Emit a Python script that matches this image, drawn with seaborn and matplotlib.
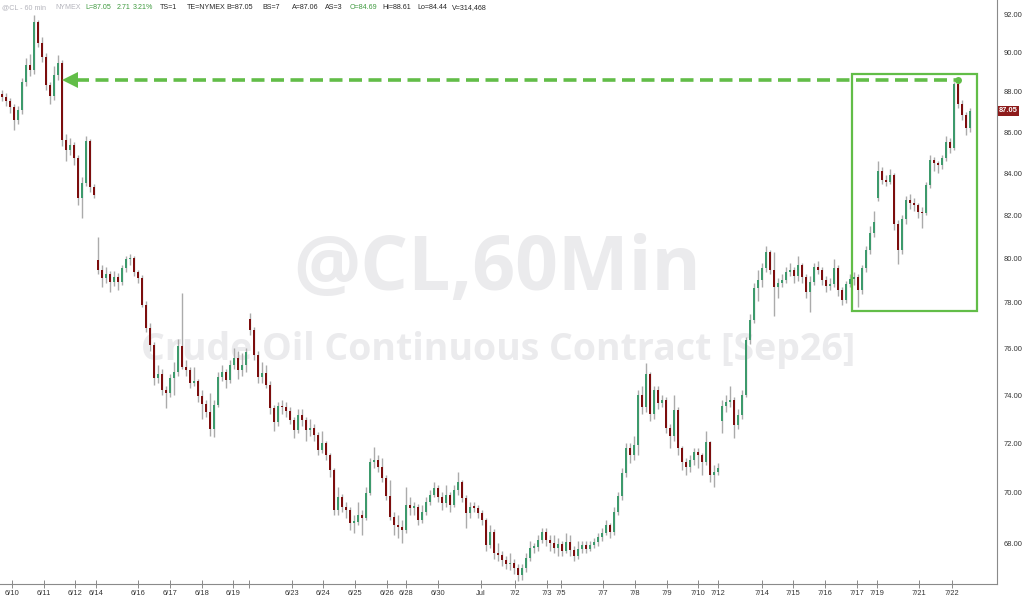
import matplotlib
matplotlib.use("Agg")
import matplotlib.pyplot as plt
import matplotlib.ticker as mticker
import matplotlib.transforms as mtransforms
import numpy as np
import seaborn as sns

sns.set_theme(style="white")
plt.rcParams["font.family"] = ["Liberation Sans", "DejaVu Sans"]

# hourly-ish OHLC bars (one bar ~ 4px of the original)
opens = [
    87.90, 87.74, 87.54, 87.24, 86.59, 87.09, 88.50, 89.36, 89.10, 91.58,
    90.49, 89.77, 88.35, 87.79, 88.85, 89.46, 85.61, 85.12, 85.37, 84.74,
    82.80, 83.55, 85.55, 83.35, 79.94, 79.48, 79.12, 79.30, 78.94, 79.16,
    78.94, 79.57, 79.98, 80.03, 79.39, 79.12, 77.91, 76.89, 76.15, 74.73,
    74.90, 74.22, 74.09, 74.73, 74.99, 76.10, 75.20, 75.07, 74.51, 74.60,
    73.96, 73.62, 73.30, 72.60, 73.60, 74.77, 74.99, 74.64, 75.29, 75.59,
    75.07, 75.29, 77.30, 76.80, 75.72, 74.77, 74.94, 74.43, 73.45, 72.87,
    73.54, 73.50, 73.33, 72.96, 72.54, 73.16, 72.96, 72.54, 72.62, 72.33,
    71.72, 72.01, 71.51, 70.90, 69.30, 69.82, 69.42, 69.30, 68.79, 68.83,
    69.10, 68.99, 69.98, 71.23, 71.31, 71.02, 70.58, 69.86, 69.03, 68.71,
    68.63, 68.51, 69.50, 69.38, 69.42, 68.91, 69.22, 69.62, 69.90, 70.18,
    69.82, 69.58, 69.90, 69.50, 70.10, 70.42, 69.78, 69.18, 69.42, 69.38,
    69.18, 68.91, 67.93, 68.44, 67.62, 67.54, 67.35, 67.19, 67.23, 67.04,
    66.77, 67.04, 67.42, 67.81, 67.85, 68.12, 68.44, 68.12, 68.00, 67.81,
    67.97, 67.70, 68.04, 67.73, 67.50, 67.77, 67.93, 67.77, 67.93, 68.04,
    68.24, 68.40, 68.71, 68.44, 69.22, 69.86, 70.78, 71.80, 71.51, 71.92,
    74.01, 73.50, 74.90, 73.20, 74.22, 73.66, 73.79, 72.62, 72.29, 73.37,
    71.80, 71.23, 71.02, 71.31, 71.64, 71.51, 71.23, 72.05, 70.70, 70.82,
    72.90, 73.55, 73.70, 73.79, 72.75, 73.16, 74.01, 76.37, 77.24, 78.67,
    79.03, 79.57, 80.31, 79.48, 78.72, 78.90, 79.03, 79.39, 79.48, 79.21,
    79.71, 79.16, 78.49, 78.94, 79.62, 79.48, 79.03, 78.76, 78.85, 79.57,
    78.58, 78.13, 78.85, 79.07, 79.16, 78.58, 79.57, 80.40, 81.19, 82.80,
    84.10, 83.68, 83.59, 83.92, 81.60, 80.40, 81.85, 82.72, 82.58, 82.49,
    82.16, 82.11, 83.44, 84.64, 84.50, 84.40, 84.74, 85.51, 85.22, 88.40,
    87.40, 86.84, 86.20,
]
highs = [
    88.10, 87.95, 87.70, 87.40, 87.30, 88.70, 89.70, 89.90, 91.95, 91.70,
    90.80, 89.95, 88.50, 89.30, 89.87, 89.60, 85.90, 85.70, 85.50, 84.90,
    83.80, 85.80, 85.65, 83.50, 81.00, 79.70, 79.60, 79.45, 79.45, 79.35,
    79.70, 80.10, 80.20, 80.10, 79.50, 79.25, 78.10, 77.10, 76.30, 75.30,
    75.10, 74.40, 74.90, 75.40, 76.40, 78.45, 75.50, 75.20, 75.20, 74.70,
    74.20, 73.80, 74.10, 73.80, 75.00, 75.30, 75.10, 75.50, 76.00, 75.90,
    75.80, 76.00, 77.55, 76.95, 75.90, 75.40, 75.30, 74.60, 73.60, 73.70,
    73.80, 73.70, 73.50, 73.10, 73.40, 73.40, 73.10, 73.00, 72.80, 72.45,
    72.50, 72.10, 71.60, 71.00, 70.20, 69.95, 69.60, 69.40, 69.10, 69.60,
    69.30, 70.20, 71.40, 71.85, 71.50, 71.40, 70.70, 70.50, 69.20, 69.10,
    68.90, 70.20, 69.80, 69.60, 69.55, 69.50, 69.80, 70.10, 70.40, 70.30,
    70.00, 70.30, 70.00, 70.30, 70.80, 70.50, 69.90, 69.60, 69.60, 69.50,
    69.30, 69.00, 68.70, 68.55, 68.00, 67.70, 67.50, 67.60, 67.40, 67.20,
    67.20, 67.60, 68.10, 68.00, 68.30, 68.60, 68.60, 68.30, 68.30, 68.20,
    68.10, 68.40, 68.30, 67.90, 68.10, 68.10, 68.10, 68.10, 68.20, 68.40,
    68.60, 68.90, 68.80, 69.40, 70.00, 71.00, 72.00, 72.00, 72.30, 74.20,
    74.40, 75.37, 75.00, 74.40, 74.40, 74.00, 73.90, 72.80, 74.00, 73.50,
    71.90, 71.40, 71.50, 71.80, 71.80, 71.60, 72.50, 72.10, 71.10, 71.20,
    73.80, 74.00, 74.40, 73.90, 73.40, 74.20, 76.50, 77.50, 78.90, 79.50,
    79.80, 80.60, 80.40, 80.30, 79.10, 79.30, 79.60, 79.80, 79.60, 80.10,
    79.80, 79.30, 79.20, 79.80, 79.90, 79.60, 79.20, 79.10, 80.00, 79.70,
    78.70, 79.00, 79.30, 79.40, 79.30, 79.70, 80.60, 81.50, 82.20, 84.60,
    84.30, 83.90, 84.20, 84.00, 81.80, 82.00, 82.90, 83.00, 82.80, 82.60,
    82.40, 83.60, 84.90, 84.80, 84.60, 84.90, 85.80, 85.70, 88.50, 88.61,
    87.60, 87.00, 87.20,
]
lows = [
    87.55, 87.30, 86.95, 86.10, 86.40, 86.90, 88.30, 88.80, 88.90, 90.30,
    89.50, 88.10, 87.40, 87.60, 88.60, 85.30, 84.60, 84.90, 84.40, 82.50,
    81.88, 83.40, 83.10, 82.80, 79.30, 78.70, 78.90, 78.50, 78.75, 78.60,
    78.80, 79.40, 79.70, 79.20, 78.90, 77.80, 76.70, 75.90, 74.43, 74.50,
    74.00, 73.45, 73.90, 74.00, 74.80, 75.10, 74.80, 74.30, 74.40, 73.70,
    73.00, 73.10, 72.30, 72.25, 73.50, 74.60, 74.30, 74.50, 75.10, 74.70,
    74.80, 75.00, 76.60, 75.50, 74.50, 74.50, 74.30, 73.20, 72.50, 72.70,
    73.20, 73.10, 72.80, 72.20, 72.40, 72.70, 72.10, 72.30, 72.10, 71.50,
    71.60, 71.30, 70.60, 69.10, 69.10, 69.20, 69.00, 68.50, 68.40, 68.70,
    68.30, 68.90, 69.90, 71.00, 70.80, 70.40, 69.70, 68.90, 68.30, 68.20,
    68.00, 68.40, 69.10, 69.10, 68.70, 68.80, 69.10, 69.50, 69.80, 69.60,
    69.30, 69.40, 69.20, 69.40, 69.90, 69.60, 68.60, 69.00, 69.20, 69.00,
    68.70, 67.70, 67.80, 67.40, 67.30, 67.10, 67.00, 66.95, 66.80, 66.55,
    66.60, 66.90, 67.30, 67.60, 67.70, 68.00, 67.90, 67.70, 67.60, 67.50,
    67.50, 67.60, 67.50, 67.30, 67.40, 67.60, 67.60, 67.70, 67.80, 67.90,
    68.10, 68.30, 68.20, 68.30, 69.10, 69.70, 70.60, 71.20, 71.30, 71.50,
    73.20, 73.30, 72.90, 73.00, 73.40, 73.50, 72.40, 71.80, 72.10, 71.50,
    70.90, 70.70, 70.80, 71.10, 71.00, 70.70, 71.10, 70.40, 70.20, 70.70,
    72.40, 73.30, 73.50, 72.20, 72.60, 73.00, 73.90, 76.20, 77.10, 78.10,
    78.70, 79.40, 79.30, 77.40, 78.20, 78.70, 78.90, 79.20, 78.90, 79.00,
    78.90, 78.20, 77.60, 78.80, 79.30, 78.80, 78.50, 78.60, 78.70, 78.30,
    77.90, 78.00, 78.70, 78.80, 77.80, 78.40, 79.40, 80.20, 81.00, 82.70,
    83.50, 83.40, 83.50, 81.30, 79.76, 80.20, 81.60, 82.30, 82.20, 81.90,
    81.40, 82.00, 83.30, 84.10, 84.00, 84.20, 84.60, 85.00, 85.10, 87.20,
    86.60, 85.85, 86.00,
]
closes = [
    87.74, 87.54, 87.24, 86.59, 87.09, 88.50, 89.36, 89.10, 91.58, 90.49,
    89.77, 88.35, 87.79, 88.85, 89.46, 85.61, 85.12, 85.37, 84.74, 82.80,
    83.55, 85.55, 83.35, 82.96, 79.48, 79.12, 79.30, 78.94, 79.16, 78.94,
    79.57, 79.98, 80.03, 79.39, 79.12, 77.91, 76.89, 76.15, 74.73, 74.90,
    74.22, 74.09, 74.73, 74.99, 76.10, 75.20, 75.07, 74.51, 74.60, 73.96,
    73.62, 73.30, 72.60, 73.60, 74.77, 74.99, 74.64, 75.29, 75.59, 75.07,
    75.29, 75.85, 76.80, 75.72, 74.77, 74.94, 74.43, 73.45, 72.87, 73.54,
    73.50, 73.33, 72.96, 72.54, 73.16, 72.96, 72.54, 72.62, 72.33, 71.72,
    72.01, 71.51, 70.90, 69.30, 69.82, 69.42, 69.30, 68.79, 68.83, 69.10,
    68.99, 69.98, 71.23, 71.31, 71.02, 70.58, 69.86, 69.03, 68.71, 68.63,
    68.51, 69.50, 69.38, 69.42, 68.91, 69.22, 69.62, 69.90, 70.18, 69.82,
    69.58, 69.90, 69.50, 70.10, 70.42, 69.78, 69.18, 69.42, 69.38, 69.18,
    68.91, 67.93, 68.44, 67.62, 67.54, 67.35, 67.19, 67.23, 67.04, 66.77,
    67.04, 67.42, 67.81, 67.85, 68.12, 68.44, 68.12, 68.00, 67.81, 67.97,
    67.70, 68.04, 67.73, 67.50, 67.77, 67.93, 67.77, 67.93, 68.04, 68.24,
    68.40, 68.71, 68.44, 69.22, 69.86, 70.78, 71.80, 71.51, 71.92, 74.01,
    73.50, 74.90, 73.20, 74.22, 73.66, 73.79, 72.62, 72.29, 73.37, 71.80,
    71.23, 71.02, 71.31, 71.64, 71.51, 71.23, 72.05, 70.70, 70.82, 70.98,
    73.55, 73.70, 73.79, 72.75, 73.16, 74.01, 76.37, 77.24, 78.67, 79.03,
    79.57, 80.31, 79.48, 78.72, 78.90, 79.03, 79.39, 79.48, 79.21, 79.71,
    79.16, 78.49, 78.94, 79.62, 79.48, 79.03, 78.76, 78.85, 79.57, 78.58,
    78.13, 78.85, 79.07, 79.16, 78.58, 79.57, 80.40, 81.19, 81.70, 84.10,
    83.68, 83.59, 83.92, 81.60, 80.40, 81.85, 82.72, 82.58, 82.49, 82.16,
    82.11, 83.44, 84.64, 84.50, 84.40, 84.74, 85.51, 85.22, 88.40, 87.40,
    86.84, 86.20, 87.05,
]

# session markers on the time axis (bar index units)
tick_pos = [2.5, 10.5, 18.25, 23.5, 34, 42, 50, 57.75, 61.75, 72.5, 80.25,
            88.25, 96.25, 101, 109, 119.75, 128.25, 136.25, 139.75, 150.25,
            158.25, 166.25, 174, 179, 190, 197.75, 205.75, 213.75, 218.75,
            229.25, 237.5]
tick_labels = ["6/10", "6/11", "6/12", "6/14", "6/16", "6/17", "6/18", "6/19",
               "", "6/23", "6/24", "6/25", "6/26", "6/28", "6/30", "Jul", "7/2",
               "7/3", "7/5", "7/7", "7/8", "7/9", "7/10", "7/12", "7/14", "7/15",
               "7/16", "7/17", "7/19", "7/21", "7/22"]
price_ticks = [68, 70, 72, 74, 76, 78, 80, 82, 84, 86, 88, 90, 92]
last_price = 87.05
box_first_bar = 213

GRAY_H, GREEN_H, DARK_H = "#b4b4bc", "#3f9a3f", "#262626"
header = [
    ("@CL - 60 min", GRAY_H, 2), ("NYMEX", GRAY_H, 55),
    ("L=87.05", GREEN_H, 85), ("2.71", GREEN_H, 117), ("3.21%", GREEN_H, 133),
    ("TS=1", DARK_H, 160), ("TE=NYMEX", DARK_H, 187), ("B=87.05", DARK_H, 226),
    ("BS=7", DARK_H, 262), ("A=87.06", DARK_H, 292), ("AS=3", DARK_H, 325),
    ("O=84.69", GREEN_H, 350), ("Hi=88.61", DARK_H, 382),
    ("Lo=84.44", DARK_H, 417), ("V=314,468", DARK_H, 452),
]

UP = "#3d9a6c"
DOWN = "#7c0d0d"
WICK = "#ababab"
MARK = "#62bd48"

fig = plt.figure(figsize=(10.24, 6), dpi=100)
ax = fig.add_axes([0, 16 / 600, 997 / 1024, 584 / 600])

o = np.array(opens)
h = np.array(highs)
l = np.array(lows)
c = np.array(closes)
idx = np.arange(len(c))
up = c >= o

body_lo = np.minimum(o, c)
body_h = np.maximum(np.abs(c - o), 0.06)

ax.vlines(idx, l, h, color=WICK, lw=1.0, zorder=2)
ax.bar(idx[up], body_h[up], bottom=body_lo[up], width=0.72, color=UP, lw=0, zorder=3)
ax.bar(idx[~up], body_h[~up], bottom=body_lo[~up], width=0.72, color=DOWN, lw=0, zorder=3)

ax.set_yscale("log")
ax.set_ylim(66.43, 92.74)
ax.set_xlim(-0.5, 248.75)
ax.yaxis.tick_right()
ax.set_yticks(price_ticks)
ax.yaxis.set_major_formatter(mticker.FormatStrFormatter("%.2f"))
ax.yaxis.set_minor_locator(mticker.NullLocator())
ax.set_xticks(tick_pos)
ax.set_xticklabels(tick_labels)
ax.tick_params(axis="y", which="major", direction="out", length=3, width=0.6,
               color="#777777", labelsize=5.4, labelcolor="#333333", pad=1.5,
               right=True, left=False)
ax.tick_params(axis="x", direction="inout", length=6, width=0.6, color="#777777",
               labelsize=5.4, labelcolor="#333333", pad=1, bottom=True)
ax.grid(False)
sns.despine(ax=ax, left=True, top=True, right=False, bottom=False)
for side in ("right", "bottom"):
    ax.spines[side].set_color("#8a8a8a")
    ax.spines[side].set_linewidth(0.8)

# watermark
ax.text(497 / 1024, 1 - 271 / 600, "@CL,60Min", transform=fig.transFigure,
        ha="center", va="center", fontsize=54, fontweight="bold",
        family=["Open Sans", "DejaVu Sans"], color="#ebebed", zorder=0)
ax.text(498 / 1024, 1 - 350 / 600, "Crude Oil Continuous Contract [Sep26]",
        transform=fig.transFigure, ha="center", va="center", fontsize=27,
        fontweight="bold", family=["Open Sans", "DejaVu Sans"],
        color="#ebebed", zorder=0)

# header quote line
for txt, col, xpx in header:
    fig.text(xpx / 1024, 1 - 9 / 600, txt, color=col, fontsize=5.1,
             ha="left", va="baseline")

# last price tag on the scale
trans = mtransforms.blended_transform_factory(ax.transAxes, ax.transData)
ax.text(1.002, last_price, f"{last_price:.2f}", transform=trans, ha="left",
        va="center", fontsize=5.4, color="white", fontweight="bold",
        bbox=dict(boxstyle="square,pad=0.18", fc="#8e1b1b", ec="none"),
        clip_on=False)

# dashed line back to the last time price traded at the new high
peak_i = box_first_bar + int(np.argmax(h[box_first_bar:]))
peak = h[peak_i]
tip_i = int(np.where(h[:peak_i] >= peak)[0][-1])
ax.plot([tip_i + 3.5, peak_i], [peak, peak], ls=(0, (3.6, 1.8)), lw=2.6,
        color=MARK, zorder=4, solid_capstyle="butt")
ax.plot([tip_i + 2], [peak], marker="<", ms=11, color=MARK, mew=0, zorder=4)
ax.plot([peak_i], [peak], marker="o", ms=5, color=MARK, mew=0, zorder=5)

# box round the latest breakout
box_lo = l[box_first_bar:].min() - 0.15
box_hi = peak + 0.3
ax.add_patch(plt.Rectangle((box_first_bar - 0.5, box_lo), len(c) + 1.2 - box_first_bar,
                           box_hi - box_lo, fill=False, ec=MARK, lw=1.6, zorder=5))

fig.savefig("out.png", dpi=100)
